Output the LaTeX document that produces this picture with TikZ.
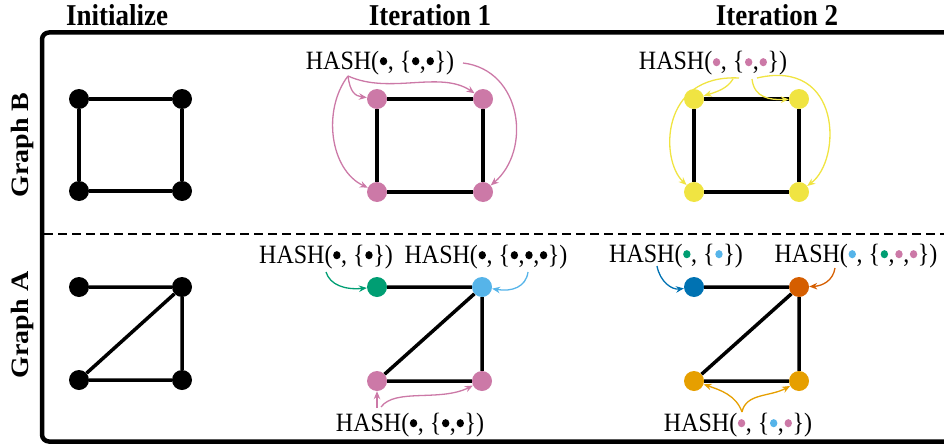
\documentclass[tikz,border=0pt]{standalone}
\usepackage{fontspec}
\setmainfont{Liberation Serif}
\usetikzlibrary{arrows.meta}
\definecolor{cpink}{HTML}{CC79A7}
\definecolor{cyellow}{HTML}{F0E442}
\definecolor{cgreen}{HTML}{009E73}
\definecolor{csky}{HTML}{56B4E9}
\definecolor{cblue}{HTML}{0072B2}
\definecolor{cverm}{HTML}{D55E00}
\definecolor{corange}{HTML}{E69F00}
\newcommand{\hdot}[1]{\hspace{0.6pt}\raisebox{3.4pt}{\tikz\fill[#1] (0,0) circle (3.7pt);}\hspace{0.6pt}}
\begin{document}
\begin{tikzpicture}[x=1pt,y=-1pt,
  vtx/.style={circle,fill=#1,inner sep=0pt,minimum size=20pt},
  gedge/.style={line width=3.5pt},
  harr/.style={draw=#1,line width=1.3pt,-{Stealth[length=8pt,width=6.5pt]}},
  hlab/.style={anchor=base,inner sep=0pt,font=\fontsize{24}{28}\selectfont},
  headlab/.style={anchor=base,inner sep=0pt,font=\fontsize{27}{30}\selectfont\bfseries},
  rowlab/.style={rotate=90,inner sep=0pt,font=\fontsize{25}{28}\selectfont\bfseries}
]
\useasboundingbox (0,0) rectangle (944,444);

% frame and separator
\draw[line width=4.5pt, rounded corners=7pt] (960,32.5) -- (42,32.5) -- (42,441.5) -- (960,441.5);
\draw[line width=2.5pt, dash pattern=on 9pt off 5pt] (44,234) -- (944,234);

% headers
\node[headlab] (h0) at (117,26) {\scalebox{1}[1.12]{Initialize}};
\node[headlab] (h1) at (430,26) {\scalebox{1}[1.12]{Iteration 1}};
\node[headlab] (h2) at (777,26) {\scalebox{1}[1.12]{Iteration 2}};
\node[rowlab] (rb) at (22,145) {\scalebox{1.12}[1]{Graph B}};
\node[rowlab] (ra) at (22,325) {\scalebox{1.12}[1]{Graph A}};

% Initialize graphs
\node[vtx=black] (b0a) at (79,99) {};
\node[vtx=black] (b0b) at (182,99) {};
\node[vtx=black] (b0c) at (79,191) {};
\node[vtx=black] (b0d) at (182,191) {};
\node[vtx=black] (a0a) at (79,287) {};
\node[vtx=black] (a0b) at (182,287) {};
\node[vtx=black] (a0c) at (79,380) {};
\node[vtx=black] (a0d) at (182,380) {};
\draw[gedge] (b0a) -- (b0b) (b0b) -- (b0d) (b0d) -- (b0c) (b0c) -- (b0a);
\draw[gedge] (a0a) -- (a0b) (a0b) -- (a0d) (a0b) -- (a0c) (a0c) -- (a0d);

% Iteration 1
\node[vtx=cpink] (b1a) at (377,99) {};
\node[vtx=cpink] (b1b) at (483,99) {};
\node[vtx=cpink] (b1c) at (377,192) {};
\node[vtx=cpink] (b1d) at (483,192) {};
\node[vtx=cgreen] (a1a) at (377,287) {};
\node[vtx=csky] (a1b) at (482,287) {};
\node[vtx=cpink] (a1c) at (377,381) {};
\node[vtx=cpink] (a1d) at (482,381) {};
\draw[gedge] (b1a) -- (b1b) (b1b) -- (b1d) (b1d) -- (b1c) (b1c) -- (b1a);
\draw[gedge] (a1a) -- (a1b) (a1b) -- (a1d) (a1b) -- (a1c) (a1c) -- (a1d);

% Iteration 2
\node[vtx=cyellow] (b2a) at (694,99) {};
\node[vtx=cyellow] (b2b) at (799,99) {};
\node[vtx=cyellow] (b2c) at (694,192) {};
\node[vtx=cyellow] (b2d) at (799,192) {};
\node[vtx=cblue] (a2a) at (694,287) {};
\node[vtx=cverm] (a2b) at (799,287) {};
\node[vtx=corange] (a2c) at (694,381) {};
\node[vtx=corange] (a2d) at (799,381) {};
\draw[gedge] (b2a) -- (b2b) (b2b) -- (b2d) (b2d) -- (b2c) (b2c) -- (b2a);
\draw[gedge] (a2a) -- (a2b) (a2b) -- (a2d) (a2b) -- (a2c) (a2c) -- (a2d);

% labels
\node[hlab] (l1b) at (380,69) {\scalebox{1}[1.1]{HASH(\hdot{black}, \{\hdot{black},\hdot{black}\})}};
\node[hlab] (l2b) at (713,70) {\scalebox{1}[1.1]{HASH(\hdot{cpink}, \{\hdot{cpink},\hdot{cpink}\})}};
\node[hlab] (l1al) at (326,263) {\scalebox{1}[1.1]{HASH(\hdot{black}, \{\hdot{black}\})}};
\node[hlab] (l1ar) at (486,263) {\scalebox{1}[1.1]{HASH(\hdot{black}, \{\hdot{black},\hdot{black},\hdot{black}\})}};
\node[hlab] (l1ab) at (410,431) {\scalebox{1}[1.1]{HASH(\hdot{black}, \{\hdot{black},\hdot{black}\})}};
\node[hlab] (l2al) at (676,262) {\scalebox{1}[1.1]{HASH(\hdot{cgreen}, \{\hdot{csky}\})}};
\node[hlab] (l2ar) at (856,262) {\scalebox{1}[1.1]{HASH(\hdot{csky}, \{\hdot{cgreen},\hdot{cpink},\hdot{cpink}\})}};
\node[hlab] (l2ab) at (738,431) {\scalebox{1}[1.1]{HASH(\hdot{cpink}, \{\hdot{csky},\hdot{cpink}\})}};

% arrow start points
\coordinate (s1) at (348,76);
\coordinate (s1r) at (463,63);
\coordinate (y1) at (733,79);
\coordinate (y2) at (752,79);
\coordinate (y3) at (739,78);
\coordinate (y4) at (757,78);
\coordinate (g1) at (326,272);
\coordinate (k1) at (528,272);
\coordinate (p1) at (377,408);
\coordinate (p2) at (381,407);
\coordinate (d2) at (657,266);
\coordinate (v2) at (835,268);
\coordinate (o2) at (742,412);

% pink arrows (iteration 1, graph B)
\draw[harr=cpink] (s1) .. controls (350,92) and (355,96) .. (b1a);
\draw[harr=cpink] (s1) .. controls (390,95) and (440,70) .. (b1b);
\draw[harr=cpink] (s1) .. controls (322,110) and (330,170) .. (b1c);
\draw[harr=cpink] (s1r) .. controls (522,70) and (532,150) .. (b1d);

% yellow arrows (iteration 2, graph B)
\draw[harr=cyellow] (y1) .. controls (727,89) and (716,92) .. (b2a);
\draw[harr=cyellow] (y2) .. controls (754,98) and (770,100) .. (b2b);
\draw[harr=cyellow] (y3) .. controls (660,74) and (660,160) .. (b2c);
\draw[harr=cyellow] (y4) .. controls (842,58) and (842,160) .. (b2d);

% graph A, iteration 1
\draw[harr=cgreen] (g1) .. controls (330,285) and (345,290) .. (a1a);
\draw[harr=csky] (k1) .. controls (526,287) and (512,292) .. (a1b);
\draw[harr=cpink] (p1) -- (a1c);
\draw[harr=cpink] (p2) .. controls (395,388) and (440,402) .. (a1d);

% graph A, iteration 2
\draw[harr=cblue] (d2) .. controls (660,282) and (672,290) .. (a2a);
\draw[harr=cverm] (v2) .. controls (833,281) and (822,286) .. (a2b);
\draw[harr=corange] (o2) .. controls (736,395) and (720,390) .. (a2c);
\draw[harr=corange] (o2) .. controls (746,393) and (770,397) .. (a2d);
\end{tikzpicture}
\end{document}
